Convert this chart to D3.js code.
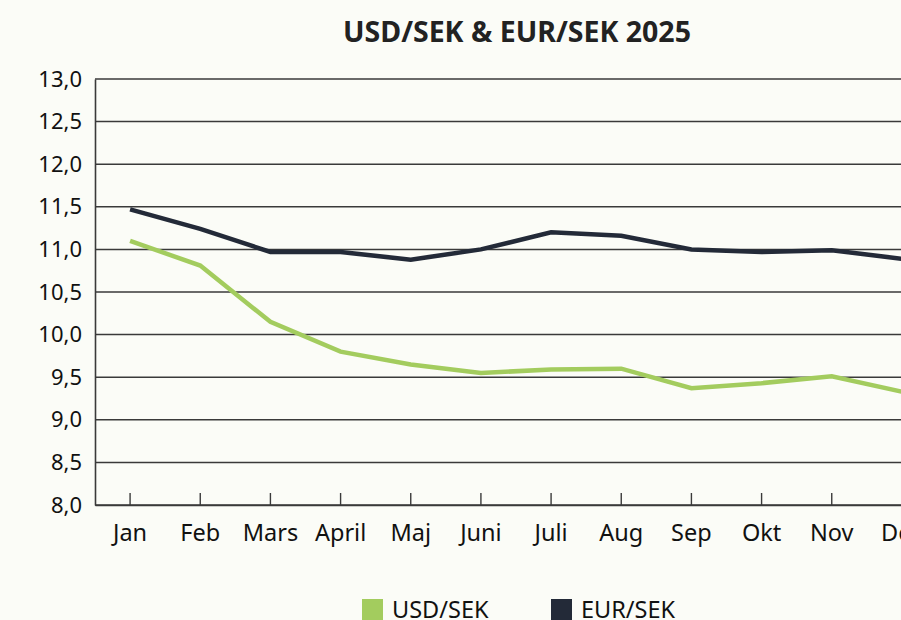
<!DOCTYPE html>
<html>
<head>
<meta charset="utf-8">
<script src="https://cdn.jsdelivr.net/npm/d3@7"></script>
<style>
  html, body { margin: 0; padding: 0; background: #fbfcf7; overflow: hidden; }
  svg { display: block; font-family: "Noto Sans", "Open Sans", sans-serif; }
  .grid line { stroke: #3a3a3a; stroke-width: 1.5; }
</style>
</head>
<body>
<svg width="901" height="620"></svg>
<script>
var months = ["Jan", "Feb", "Mars", "April", "Maj", "Juni", "Juli", "Aug", "Sep", "Okt", "Nov", "Dec"];
var usdSek = [11.10, 10.81, 10.15, 9.80, 9.65, 9.55, 9.59, 9.60, 9.37, 9.43, 9.51, 9.33];
var eurSek = [11.47, 11.24, 10.97, 10.97, 10.88, 11.00, 11.20, 11.16, 11.00, 10.97, 10.99, 10.89];
var yTicks = [8.0, 8.5, 9.0, 9.5, 10.0, 10.5, 11.0, 11.5, 12.0, 12.5, 13.0];

var svg = d3.select("svg"),
    margin = {top: 79, left: 95},
    width = 842,   // plot runs past the right edge, like the original
    height = 426;

var x = d3.scaleBand().domain(months).range([0, width]);
var y = d3.scaleLinear().domain([8, 13]).range([height, 0]);

var g = svg.append("g")
    .attr("transform", "translate(" + margin.left + "," + margin.top + ")");

// title
svg.append("text")
    .attr("x", 517).attr("y", 42)
    .attr("text-anchor", "middle")
    .style("font-size", "28.5px").style("font-weight", "bold")
    .style("fill", "#222")
    .text("USD/SEK & EUR/SEK 2025");

// horizontal grid lines
g.append("g").attr("class", "grid")
  .selectAll("line").data(yTicks).enter().append("line")
    .attr("x1", 0).attr("x2", width)
    .attr("y1", d => y(d)).attr("y2", d => y(d));

// y axis
var yAxis = g.append("g")
    .call(d3.axisLeft(y).tickValues(yTicks).tickSize(0).tickPadding(13)
      .tickFormat(d => d3.format(".1f")(d).replace(".", ",")));
yAxis.select(".domain").attr("stroke", "#3a3a3a").attr("stroke-width", 1.6);
yAxis.selectAll("text").style("font-size", "22px").style("fill", "#111")
    .style("font-family", "'Noto Sans', sans-serif");

// x axis, ticks point up into the plot
var xAxis = g.append("g")
    .attr("transform", "translate(0," + height + ")")
    .call(d3.axisBottom(x).tickSizeInner(-12).tickSizeOuter(0).tickPadding(19));
xAxis.select(".domain").attr("stroke", "#3a3a3a").attr("stroke-width", 1.6);
xAxis.selectAll(".tick line").attr("stroke", "#3a3a3a").attr("stroke-width", 1.4);
xAxis.selectAll("text").style("font-size", "23.5px").style("fill", "#111")
    .style("font-family", "'Noto Sans', sans-serif");

var line = d3.line()
    .x((d, i) => x(months[i]) + x.bandwidth() / 2)
    .y(d => y(d));

g.append("path").datum(usdSek)
    .attr("fill", "none").attr("stroke", "#a3cc5e").attr("stroke-width", 4.5)
    .attr("d", line);

g.append("path").datum(eurSek)
    .attr("fill", "none").attr("stroke", "#232a38").attr("stroke-width", 4.5)
    .attr("d", line);

// legend
var legend = [
  {name: "USD/SEK", color: "#a3cc5e", x: 362},
  {name: "EUR/SEK", color: "#232a38", x: 551}
];
var lg = svg.append("g").selectAll("g").data(legend).enter().append("g")
    .attr("transform", d => "translate(" + d.x + ",599)");
lg.append("rect").attr("width", 21).attr("height", 21).attr("fill", d => d.color);
lg.append("text").attr("x", 30).attr("y", 19)
    .style("font-size", "23.5px").style("fill", "#111")
    .text(d => d.name);
</script>
</body>
</html>
